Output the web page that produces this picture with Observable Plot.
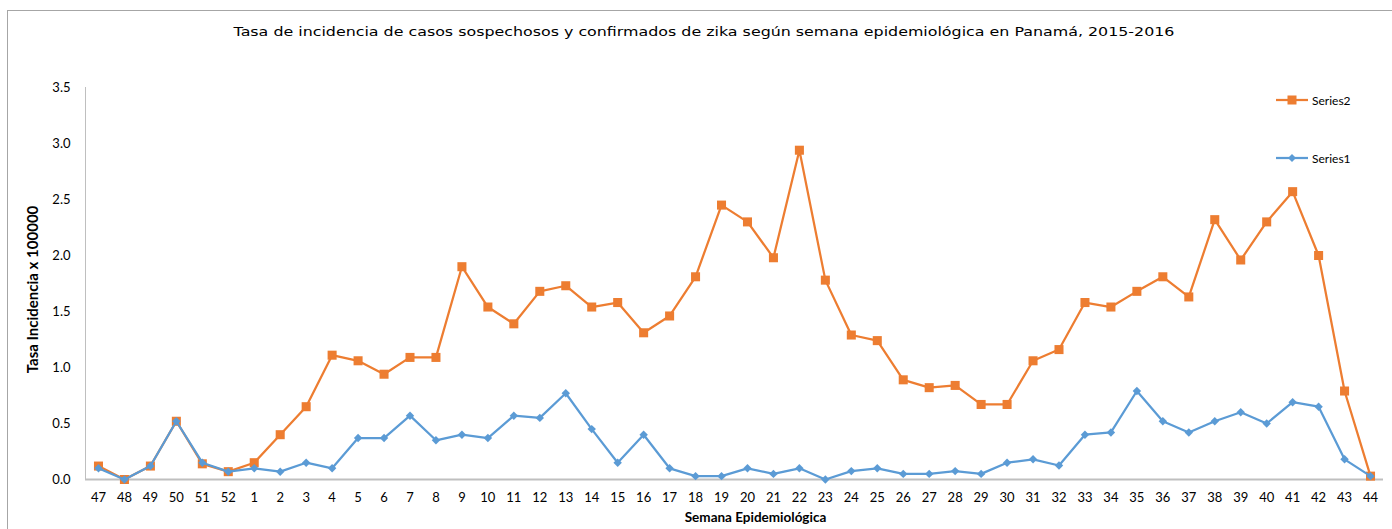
<!DOCTYPE html>
<html><head><meta charset="utf-8">
<script src="https://cdn.jsdelivr.net/npm/d3@7"></script>
<script src="https://cdn.jsdelivr.net/npm/@observablehq/plot@0.6"></script>
<style>
body{margin:0;background:#fff;width:1392px;height:529px;overflow:hidden;position:relative;font-family:Lato,sans-serif}
#frame{position:absolute;left:7px;top:10px;width:1400px;height:600px;border:1px solid #a6a6a6;box-sizing:border-box}
#fig{position:absolute;left:0;top:0}
#title{position:absolute;top:24px;left:0;width:1408px;text-align:center;font:13px "DejaVu Sans",sans-serif;color:#000;white-space:nowrap;transform:scaleX(1.22);transform-origin:704px 0}
#grafico{position:absolute;left:14px;top:-19px;font:bold 21px "DejaVu Sans",sans-serif;color:#000;white-space:nowrap}
.leg{position:absolute;left:1276px;font:12px Lato,sans-serif;color:#000;display:flex;align-items:center;height:14px}
.leg svg{margin-right:4px}
</style></head>
<body>
<div id="grafico">Gráfico 1</div>
<div id="frame"></div>
<div id="fig"></div>
<div id="title">Tasa de incidencia de casos sospechosos y confirmados de zika según semana epidemiológica en Panamá, 2015-2016</div>
<div class="leg" style="top:93px"><svg width="32" height="12"><line x1="0" y1="6" x2="32" y2="6" stroke="#ED7D31" stroke-width="2.25"/><rect x="11.5" y="1.5" width="9" height="9" fill="#ED7D31"/></svg>Series2</div>
<div class="leg" style="top:151px"><svg width="32" height="12"><line x1="0" y1="6" x2="32" y2="6" stroke="#5B9BD5" stroke-width="2.25"/><path d="M16 2 L20 6 L16 10 L12 6 Z" fill="#5B9BD5"/></svg>Series1</div>
<script>
const weeks = ["47","48","49","50","51","52","1","2","3","4","5","6","7","8","9","10","11","12","13","14","15","16","17","18","19","20","21","22","23","24","25","26","27","28","29","30","31","32","33","34","35","36","37","38","39","40","41","42","43","44"];
const series2 = [0.12,0.00,0.12,0.52,0.14,0.07,0.15,0.40,0.65,1.11,1.06,0.94,1.09,1.09,1.90,1.54,1.39,1.68,1.73,1.54,1.58,1.31,1.46,1.81,2.45,2.30,1.98,2.94,1.78,1.29,1.24,0.89,0.82,0.84,0.67,0.67,1.06,1.16,1.58,1.54,1.68,1.81,1.63,2.32,1.96,2.30,2.57,2.00,0.79,0.03];
const series1 = [0.10,0.00,0.12,0.52,0.15,0.07,0.10,0.07,0.15,0.10,0.37,0.37,0.57,0.35,0.40,0.37,0.57,0.55,0.77,0.45,0.15,0.40,0.10,0.03,0.03,0.10,0.05,0.10,0.00,0.075,0.10,0.05,0.05,0.075,0.05,0.15,0.18,0.125,0.40,0.42,0.79,0.52,0.42,0.52,0.60,0.50,0.69,0.65,0.18,0.03];
const yTicks = [0,0.5,1,1.5,2,2.5,3,3.5];

const d2 = weeks.map((w,i)=>({week:w, v:series2[i]}));
const d1 = weeks.map((w,i)=>({week:w, v:series1[i]}));

const chart = Plot.plot({
  width:1392, height:529,
  marginLeft:85, marginRight:9, marginTop:87, marginBottom:50,
  style:{fontFamily:"Lato, sans-serif", fontSize:"13px", color:"#000", background:"transparent", overflow:"visible"},
  x:{type:"point", domain:weeks, padding:0.5, label:null},
  y:{domain:[0,3.5], label:null},
  marks:[
    Plot.axisY({ticks:yTicks, tickFormat:d=>d.toFixed(1), tickSize:0, tickPadding:15, fontSize:13}),
    Plot.axisX({tickSize:0, tickPadding:13, fontSize:13}),
    Plot.text(["Tasa Incidencia x 100000"], {frameAnchor:"left", textAnchor:"middle", dx:-52, dy:6, rotate:-90, fontWeight:"bold", fontSize:15}),
    Plot.text(["Semana Epidemiológica"], {frameAnchor:"bottom", textAnchor:"middle", dy:42, dx:21, fontWeight:"bold", fontSize:13.5}),
    Plot.frame({anchor:"left", stroke:"#bfbfbf", strokeWidth:1}),
    Plot.ruleY([0], {stroke:"#bfbfbf", strokeWidth:2}),
    Plot.line(d2, {x:"week", y:"v", stroke:"#ED7D31", strokeWidth:2.25}),
    Plot.dot(d2, {x:"week", y:"v", symbol:"square", r:5.1, fill:"#ED7D31"}),
    Plot.line(d1, {x:"week", y:"v", stroke:"#5B9BD5", strokeWidth:2.25}),
    Plot.dot(d1, {x:"week", y:"v", symbol:"diamond2", r:3.8, fill:"#5B9BD5"})
  ]
});
document.getElementById("fig").appendChild(chart);
</script>
</body></html>
